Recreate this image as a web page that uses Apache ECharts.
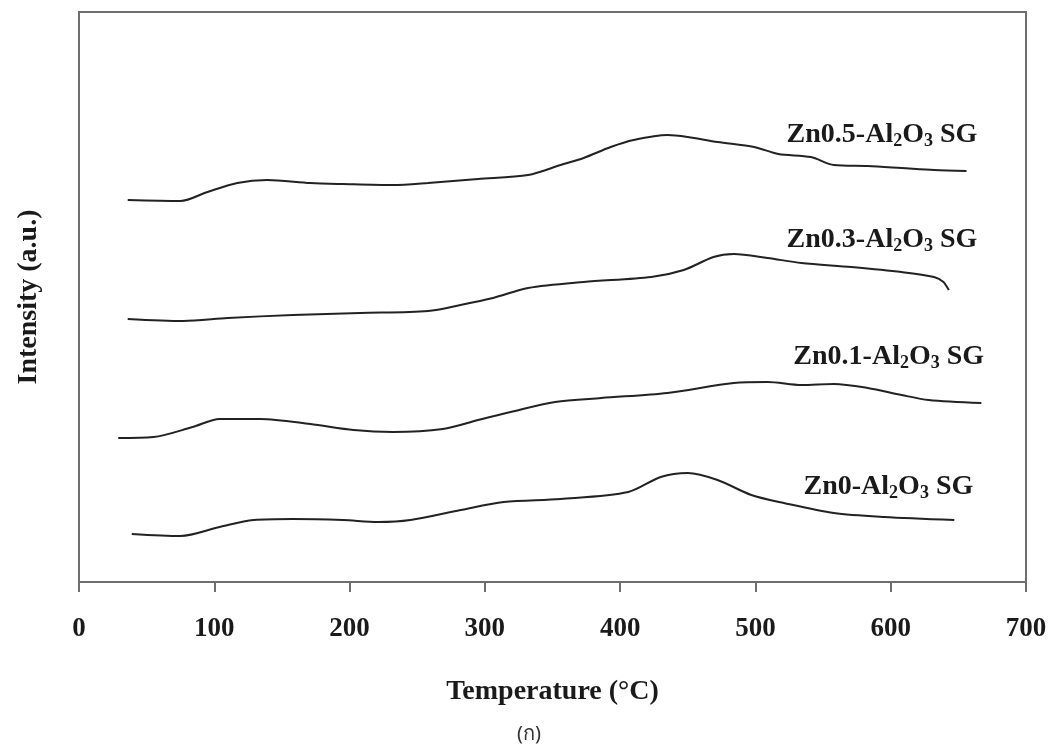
<!DOCTYPE html>
<html>
<head>
<meta charset="utf-8">
<script src="https://cdn.jsdelivr.net/npm/echarts@6/dist/echarts.min.js"></script>
<style>
html,body{margin:0;padding:0;background:#fff;}
#chart{width:1054px;height:754px;}
</style>
</head>
<body>
<div id="chart"></div>
<script>
// Temperature (°C) and intensity (a.u.)
const temp05 = [36,75,95,117,139,171,195,232,258,295,332,356,373,393,410,435,450,472,499,517,541,558,583,608,632,656];
const int05  = [3.82,3.81,3.90,3.99,4.02,3.99,3.98,3.97,3.99,4.03,4.07,4.17,4.24,4.35,4.42,4.47,4.45,4.40,4.35,4.28,4.25,4.17,4.16,4.14,4.12,4.11];

const temp03 = [36,77,110,158,208,258,282,306,332,373,423,447,469,484,509,534,571,608,632,639,643];
const int03  = [2.63,2.61,2.64,2.67,2.69,2.71,2.77,2.84,2.94,3.00,3.05,3.12,3.25,3.28,3.24,3.19,3.15,3.10,3.05,3.00,2.92];

const temp01 = [29,55,84,104,134,171,203,232,269,295,319,352,386,435,484,509,534,558,583,608,628,667];
const int01  = [1.44,1.45,1.55,1.63,1.63,1.58,1.52,1.50,1.53,1.62,1.70,1.80,1.84,1.89,1.99,2.00,1.97,1.98,1.94,1.87,1.82,1.79];

const temp00 = [39,75,104,129,158,195,221,245,282,314,356,406,430,450,472,497,521,558,595,647];
const int00  = [0.48,0.46,0.55,0.62,0.63,0.62,0.60,0.62,0.72,0.80,0.83,0.90,1.05,1.09,1.02,0.87,0.79,0.69,0.65,0.62];

// curve labels: prefix, right-edge temperature, intensity
const labelPrefix = ['Zn0.5', 'Zn0.3', 'Zn0.1', 'Zn0'];
const labelT = [664, 664, 669, 661];
const labelI = [4.47, 3.42, 2.25, 0.95];

const xTicks = [0, 100, 200, 300, 400, 500, 600, 700];

const serif = "'Liberation Serif','Times New Roman',serif";
const lineColor = '#222';

function zip(a, b) { return a.map((v, i) => [v, b[i]]); }

function curve(t, v) {
  return {
    type: 'line', data: zip(t, v), showSymbol: false, symbol: 'none',
    smooth: 0.3, lineStyle: { color: lineColor, width: 2 }, silent: true
  };
}

const chart = echarts.init(document.getElementById('chart'));
chart.setOption({
  animation: false,
  backgroundColor: '#fff',
  grid: { left: 79, right: 28, top: 12, bottom: 172, show: true, borderColor: '#6e6e6e', borderWidth: 2 },
  xAxis: {
    type: 'value', min: 0, max: 700, interval: 100,
    name: 'Temperature (°C)', nameLocation: 'middle', nameGap: 96,
    nameTextStyle: { fontFamily: serif, fontWeight: 'bold', fontSize: 28, color: '#1a1a1a' },
    axisLine: { show: true, lineStyle: { color: '#6e6e6e', width: 2 } },
    axisTick: { show: true, inside: false, length: 10, lineStyle: { color: '#6e6e6e', width: 2 } },
    axisLabel: { fontFamily: serif, fontWeight: 'bold', fontSize: 27, color: '#1a1a1a', margin: 34,
      formatter: v => xTicks.includes(v) ? String(v) : '' },
    splitLine: { show: false }
  },
  yAxis: {
    type: 'value', min: 0, max: 5.7,
    name: 'Intensity (a.u.)', nameLocation: 'middle', nameGap: 36, nameRotate: 90,
    nameTextStyle: { fontFamily: serif, fontWeight: 'bold', fontSize: 28, color: '#1a1a1a' },
    axisLine: { show: true, lineStyle: { color: '#6e6e6e', width: 2 } },
    axisTick: { show: false }, axisLabel: { show: false }, splitLine: { show: false }
  },
  graphic: [{
    type: 'text', left: 517, top: 724,
    style: { text: '(ก)', fontFamily: "'Noto Sans','DejaVu Sans',sans-serif", fontSize: 20, fill: '#333' }
  }],
  series: [
    curve(temp05, int05), curve(temp03, int03), curve(temp01, int01), curve(temp00, int00),
    {
      type: 'scatter', symbolSize: 0, silent: true,
      itemStyle: { opacity: 1, color: 'rgba(0,0,0,0)' },
      data: labelPrefix.map((p, i) => ({ value: [labelT[i], labelI[i]], name: p })),
      label: {
        show: true, position: 'left', distance: 0, opacity: 1,
        formatter: p => p.name + '-Al{sub|2}O{sub|3} SG',
        fontFamily: serif, fontWeight: 'bold', fontSize: 28, color: '#1a1a1a', lineHeight: 30,
        rich: {
          sub: { fontFamily: serif, fontWeight: 'bold', fontSize: 18, lineHeight: 12, verticalAlign: 'bottom', color: '#1a1a1a' }
        }
      }
    }
  ]
});
</script>
</body>
</html>
